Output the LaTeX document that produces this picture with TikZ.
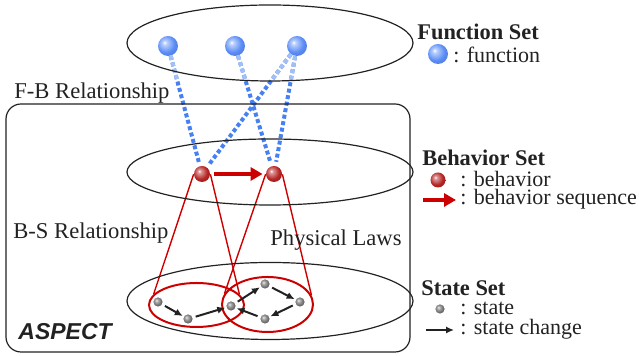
\documentclass[tikz,border=0pt]{standalone}
\usepackage{fontspec}
\setmainfont{Liberation Serif}
\newfontfamily\aspectfont{Liberation Sans}
\usepackage{tikz}
\usetikzlibrary{arrows.meta, positioning, calc, shapes.geometric, backgrounds}
\usepackage{xcolor}
\definecolor{funcblue}{HTML}{5A8CF6}
\definecolor{linkblue}{HTML}{4680F2}
\definecolor{linklight}{HTML}{A3C0F6}
\definecolor{behred}{HTML}{B52222}
\definecolor{lawred}{HTML}{CC0000}
\definecolor{stategray}{HTML}{6E6E6E}
\definecolor{txtgray}{HTML}{222222}

% softer spheres than the default ball shading
\pgfdeclareradialshading{fsphere}{\pgfpoint{-9bp}{9bp}}{%
  color(0bp)=(white); color(5bp)=(funcblue!40!white); color(22bp)=(funcblue);
  color(42bp)=(funcblue!80!black); color(62bp)=(funcblue!60!black)}
\pgfdeclareradialshading{bsphere}{\pgfpoint{-9bp}{9bp}}{%
  color(0bp)=(white); color(5bp)=(behred!45!white); color(22bp)=(behred);
  color(42bp)=(behred!75!black); color(62bp)=(behred!55!black)}
\pgfdeclareradialshading{ssphere}{\pgfpoint{-9bp}{9bp}}{%
  color(0bp)=(white); color(6bp)=(stategray!50!white); color(22bp)=(stategray);
  color(42bp)=(stategray!70!black); color(62bp)=(stategray!50!black)}

\begin{document}
\begin{tikzpicture}[
  x=0.5pt, y=-0.5pt,
  setring/.style={
    draw=txtgray, ellipse, line width=0.6pt, inner sep=0pt, minimum width=143pt
  },
  lawring/.style={draw=lawred, ellipse, line width=1pt, inner sep=0pt},
  fball/.style={circle, inner sep=0pt, minimum size=10pt, shading=fsphere},
  bball/.style={circle, inner sep=0pt, minimum size=8pt, shading=bsphere},
  sball/.style={circle, inner sep=0pt, minimum size=4.6pt, shading=ssphere},
  link/.style={line width=2pt, linkblue, dash pattern=on 2pt off 1.3pt, shorten >=2pt},
  linkfade/.style={line width=2pt, linklight, dash pattern=on 2pt off 1.3pt},
  seqarrow/.style={-{Triangle[length=6pt, width=6.5pt]}, line width=2pt, lawred},
  chgarrow/.style={-{Latex[length=4pt, width=3.6pt]}, line width=1pt, txtgray},
  lawline/.style={lawred, line width=0.7pt},
  txt/.style={anchor=base west, inner sep=0pt, text=txtgray,
    font=\fontsize{11.3}{13}\selectfont},
  keytxt/.style={txt, font=\fontsize{11}{13}\selectfont},
  heading/.style={txt, font=\fontsize{11.2}{13}\selectfont\bfseries}
]
  \useasboundingbox (0,0) rectangle (639,356);

  % Aspect frame and the three sets
  \node[draw=txtgray, line width=0.6pt, rounded corners=7.5pt,
        minimum width=202pt, minimum height=124pt] (aspect) at (208,228) {};
  \node[setring, minimum height=38pt] (fset) at (270,43) {};
  \node[setring, minimum height=33pt] (bset) at (270,172) {};
  \node[setring, minimum height=38.5pt] (sset) at (270,301) {};

  % Physical-law regions in the state set
  \node[lawring, minimum width=47.5pt, minimum height=22pt] (lawl) at (196.5,305) {};
  \node[lawring, minimum width=45.5pt, minimum height=27.5pt] (lawr) at (267.5,304.5) {};

  % Functions
  \node[fball] (f1) at (168,46) {};
  \node[fball] (f2) at (235,46) {};
  \node[fball] (f3) at (297,46) {};

  % Behaviors
  \node[bball] (b1) at (202,174) {};
  \node[bball] (b2) at (274,174) {};
  \draw[seqarrow, shorten <=2pt, shorten >=1.5pt] (b1) -- (b2);

  % States
  \node[sball] (s1) at (158,302) {};
  \node[sball] (s2) at (188,319) {};
  \node[sball] (s3) at (231,306) {};
  \node[sball] (s4) at (265,284) {};
  \node[sball] (s5) at (300,302) {};
  \node[sball] (s6) at (265,319) {};
  \foreach \a/\b in {s1/s2, s2/s3, s3/s4, s4/s5, s5/s6, s6/s3}
    \draw[chgarrow, shorten <=1.5pt, shorten >=0.5pt] (\a) -- (\b);

  % F-B and B-S relationships behind the balls
  \begin{scope}[on background layer]
    \foreach \f/\b in {f1/b1, f2/b2, f3/b1, f3/b2} {
      \draw[link] (\f) -- (\b);
      \draw[linkfade] (\f) -- ($(\f)!0.27!(\b)$);
    }
    \draw[lawline] (b1.182) -- (lawl.166);
    \draw[lawline] (b1.-2) -- (lawl.14);
    \draw[lawline] (b2.182) -- (lawr.166);
    \draw[lawline] (b2.-2) -- (lawr.12);
  \end{scope}

  % Labels
  \node[txt] (fblabel) at (14,99) {F-B Relationship};
  \node[txt] (bslabel) at (13,239) {B-S Relationship};
  \node[txt] (lawlabel) at (270,246) {Physical Laws};
  \node[txt, font=\aspectfont\fontsize{11.5}{13}\selectfont\bfseries\itshape] (aspectlabel)
    at (18,340) {ASPECT};

  % Legend
  \node[heading] (fhead) at (417,40) {Function Set};
  \node[fball] (fkey) at (438,54) {};
  \node[keytxt] (fkeytxt) at (453,63) {: function};

  \node[heading] (bhead) at (422,166) {Behavior Set};
  \node[bball, minimum size=7.5pt] (bkey) at (438,180) {};
  \node[keytxt] (bkeytxt) at (460,187) {: behavior};
  \coordinate (seq0) at (423,200);
  \coordinate (seq1) at (456,200);
  \draw[seqarrow] (seq0) -- (seq1);
  \node[keytxt] (seqtxt) at (460,205) {: behavior sequence};

  \node[heading] (shead) at (421,296) {State Set};
  \node[sball] (skey) at (440,309) {};
  \node[keytxt] (skeytxt) at (460,315) {: state};
  \coordinate (chg0) at (426,330);
  \coordinate (chg1) at (454,330);
  \draw[chgarrow] (chg0) -- (chg1);
  \node[keytxt] (chgtxt) at (460,335) {: state change};
\end{tikzpicture}
\end{document}
